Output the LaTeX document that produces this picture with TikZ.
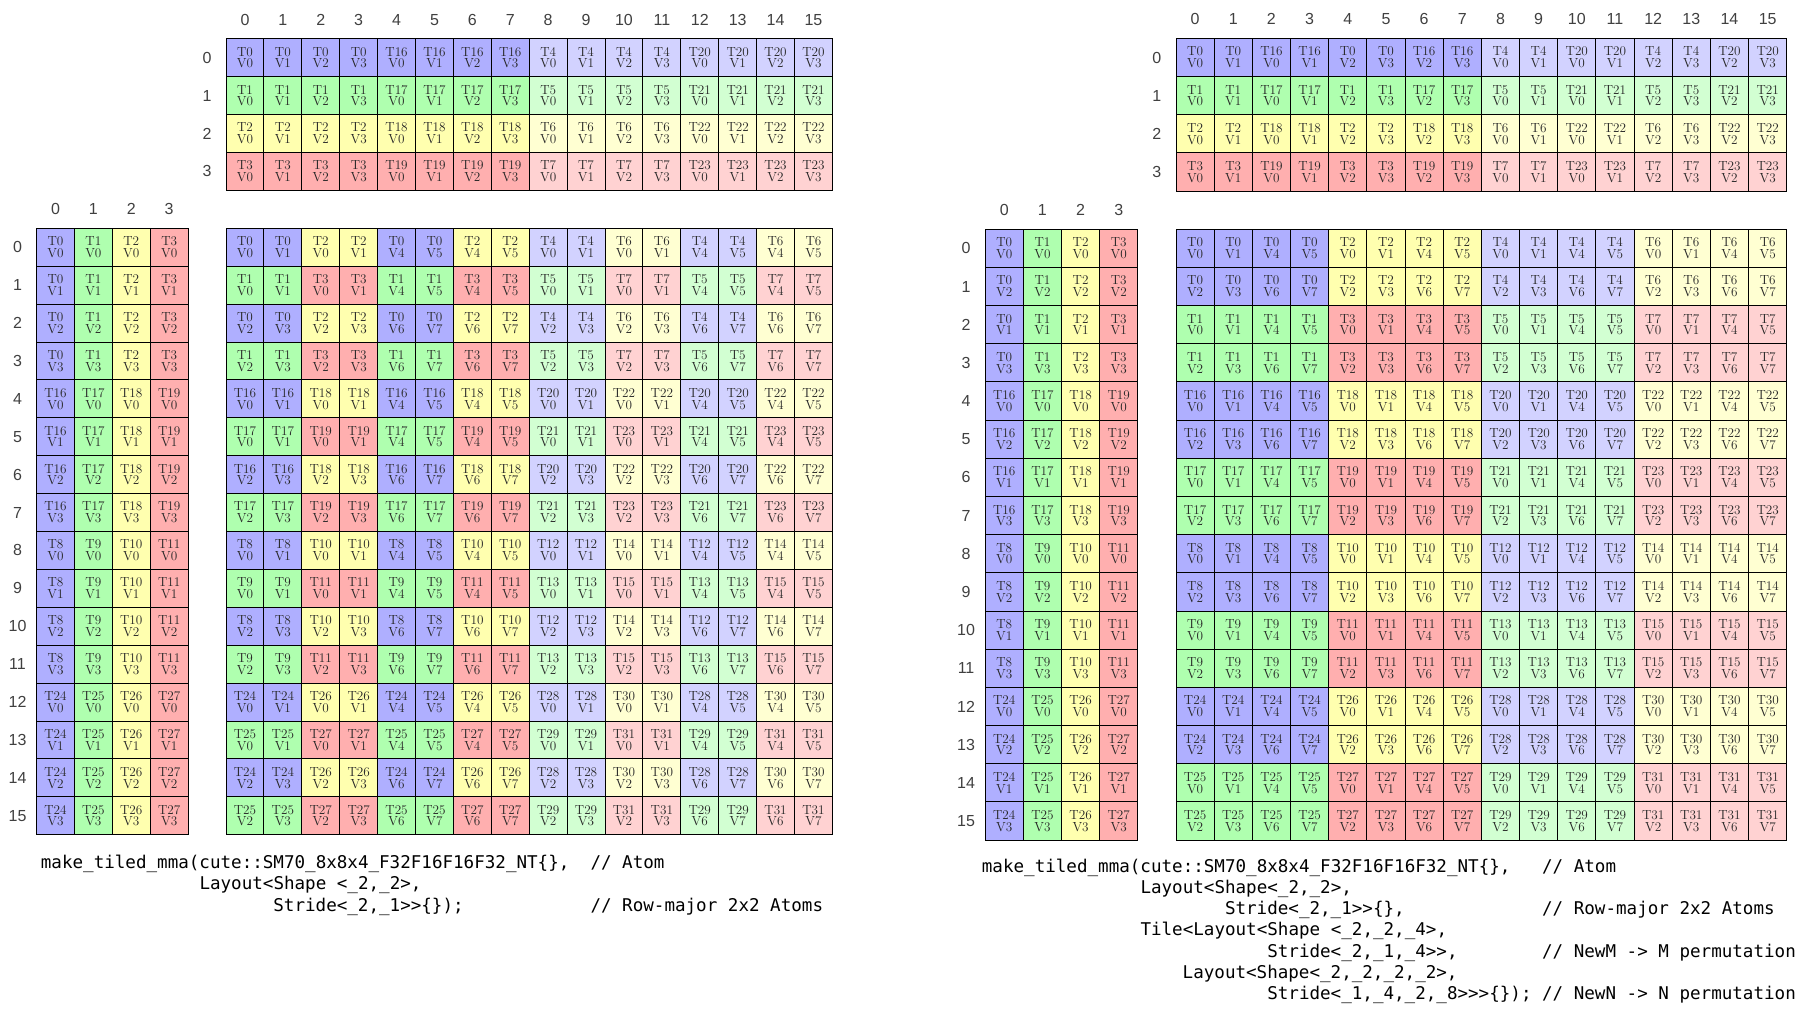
\documentclass[tikz,border=0pt]{standalone}
\usepackage{fontspec}
\newfontfamily\labelfont{Liberation Sans}
\newfontfamily\codefont{DejaVu Sans Mono}
\definecolor{tcol0}{RGB}{175,175,255}
\definecolor{tcol1}{RGB}{175,255,175}
\definecolor{tcol2}{RGB}{255,255,175}
\definecolor{tcol3}{RGB}{255,175,175}
\definecolor{tcol4}{RGB}{210,210,255}
\definecolor{tcol5}{RGB}{210,255,210}
\definecolor{tcol6}{RGB}{255,255,210}
\definecolor{tcol7}{RGB}{255,210,210}
\tikzset{
  cell/.style={draw=black, line width=1pt, inner sep=0pt, align=center, text=black!85,
    font=\fontsize{13.2}{11.8}\selectfont},
  idx/.style={text=black!75, font=\labelfont\fontsize{16}{16}\selectfont},
  code/.style={anchor=base west, inner sep=0pt, text=black,
    font=\codefont\fontsize{17.56}{21}\selectfont}
}

\begin{document}
\begin{tikzpicture}[x=1pt, y=-1pt]
\useasboundingbox (0,0) rectangle (1806,1011);
\fill[white] (0,0) rectangle (1806,1011);
% Panels: plain 2x2 atoms (left), permuted M and N (right)
\foreach \pp/\ox/\oy/\sz/\nm in {0/226/228.3/37.9/L, 1/1176/229.3/38.17/R}{
  \begin{scope}[shift={(\ox,\oy)}, x=\sz pt, y=-\sz pt,
      cell/.append style={minimum size=\sz pt}]
  % Index labels
    \foreach \ni in {0,...,15}
      \node[idx] (\nm-bn\ni) at (\ni+0.5,-5.5) {\ni};
    \foreach \ki in {0,...,3} {
      \node[idx] (\nm-bk\ki) at (-0.5,\ki-4.5) {\ki};
      \node[idx] (\nm-ak\ki) at (\ki-4.5,-0.5) {\ki};
    }
    \foreach \mi in {0,...,15}
      \node[idx] (\nm-am\mi) at (-5.5,\mi+0.5) {\mi};
  % B (K x N)
    \foreach \ni in {0,...,15} {
      \pgfmathtruncatemacro\nn{\pp==1 ? 8*int(\ni/8)+mod(\ni,2)+4*mod(int(\ni/2),2)+2*mod(int(\ni/4),2) : \ni}
      \foreach \ki in {0,...,3} {
        \pgfmathtruncatemacro\tid{\ki+16*mod(int(\nn/4),2)+4*int(\nn/8)}
        \pgfmathtruncatemacro\vid{mod(\nn,4)}
        \pgfmathtruncatemacro\ci{mod(\tid,8)}
        \node[cell, fill=tcol\ci] (\nm-b-\ki-\ni) at (\ni+0.5,\ki-4.5) {T\tid\\V\vid};
      }
    }
  % A (M x K) and C (M x N)
    \foreach \mi in {0,...,15} {
      \pgfmathtruncatemacro\mm{\pp==1 ? 4*int(\mi/4)+2*mod(\mi,2)+mod(int(\mi/2),2) : \mi}
      \foreach \ki in {0,...,3} {
        \pgfmathtruncatemacro\tid{\ki+16*mod(int(\mm/4),2)+8*int(\mm/8)}
        \pgfmathtruncatemacro\vid{mod(\mm,4)}
        \pgfmathtruncatemacro\ci{mod(\tid,8)}
        \node[cell, fill=tcol\ci] (\nm-a-\mi-\ki) at (\ki-4.5,\mi+0.5) {T\tid\\V\vid};
      }
      \foreach \ni in {0,...,15} {
        \pgfmathtruncatemacro\nn{\pp==1 ? 8*int(\ni/8)+mod(\ni,2)+4*mod(int(\ni/2),2)+2*mod(int(\ni/4),2) : \ni}
        \pgfmathtruncatemacro\tid{mod(\mm,2)+2*mod(int(\nn/2),2)+16*mod(int(\mm/4),2)+8*int(\mm/8)+4*int(\nn/8)}
        \pgfmathtruncatemacro\vid{mod(\nn,2)+2*mod(int(\mm/2),2)+4*mod(int(\nn/4),2)}
        \pgfmathtruncatemacro\ci{mod(\tid,8)}
        \node[cell, fill=tcol\ci] (\nm-c-\mi-\ni) at (\ni+0.5,\mi+0.5) {T\tid\\V\vid};
      }
    }
  \end{scope}
}
% Code, left
\node[code] (L-code1) at (40.7,868) {make\_tiled\_mma(cute::SM70\_8x8x4\_F32F16F16F32\_NT\{\},};
\node[code] (L-code2) at (199.3,889.5) {Layout<Shape <\_2,\_2>,};
\node[code] (L-code3) at (273.2,911) {Stride<\_2,\_1>>\{\});};
\node[code] (L-rem1) at (590.3,868) {// Atom};
\node[code] (L-rem3) at (590.3,911) {// Row-major 2x2 Atoms};
% Code, right
\node[code] (R-code1) at (981.7,872) {make\_tiled\_mma(cute::SM70\_8x8x4\_F32F16F16F32\_NT\{\},};
\node[code] (R-code2) at (1140.3,893.3) {Layout<Shape<\_2,\_2>,};
\node[code] (R-code3) at (1224.8,914.6) {Stride<\_2,\_1>>\{\},};
\node[code] (R-code4) at (1140.3,935.9) {Tile<Layout<Shape <\_2,\_2,\_4>,};
\node[code] (R-code5) at (1267.1,957.2) {Stride<\_2,\_1,\_4>>,};
\node[code] (R-code6) at (1182.5,978.5) {Layout<Shape<\_2,\_2,\_2,\_2>,};
\node[code] (R-code7) at (1267.1,999.8) {Stride<\_1,\_4,\_2,\_8>>>\{\});};
\node[code] (R-rem1) at (1541.9,872) {// Atom};
\node[code] (R-rem3) at (1541.9,914.6) {// Row-major 2x2 Atoms};
\node[code] (R-rem5) at (1541.9,957.2) {// NewM -> M permutation};
\node[code] (R-rem7) at (1541.9,999.8) {// NewN -> N permutation};
\end{tikzpicture}
\end{document}
